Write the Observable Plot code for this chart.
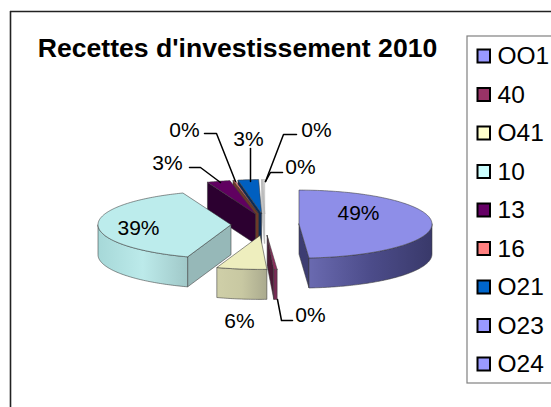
<!DOCTYPE html>
<html><head><meta charset="utf-8">
<script src="https://cdn.jsdelivr.net/npm/d3@7"></script>
<script src="https://cdn.jsdelivr.net/npm/@observablehq/plot@0.6"></script>
<style>html,body{margin:0;padding:0;background:#fff;overflow:hidden}svg{display:block}</style>
</head><body><div id="chart"></div>
<script>
const title = "Recettes d'investissement 2010";
const categories = ["OO1","40","O41","10","13","16","O21","O23","O24"];
const values = [48.9,0.4,6.1,38.9,2.8,0.25,2.5,0.1,0.25];
const legendColors = ["#9999ff","#993366","#ffffcc","#ccffff","#660066","#ff8080","#0066cc","#9999ff","#9999ff"];
const topColors = ["#8e8ee8","#8e2f5e","#eeeebe","#bcecec","#600060","#ee7676","#005fc0","#c8c8c8","#d4d4d4"];
const faceColors = ["#3d3d72","#4a1a36","#aaa888","#96b8b8","#2c0030","#6e3a28","#0a2a58","#c4c4c4","#cfcfcf"];
const rimStops = [
  ["#6a6ab0","#4c4c8a","#39396a"],["#7a2a55","#7a2a55","#7a2a55"],["#cfcfa8","#c8c8a2","#aaaa8e"],
  ["#a6d8d8","#bceaea","#a0c8c8"],["#300030","#300030","#300030"],["#703030","#703030","#703030"],
  ["#003060","#003060","#003060"],["#bbb","#bbb","#bbb"],["#bbb","#bbb","#bbb"]];
// callouts: value label text, text x, text y
const calloutText = [
  ["49%",358,213],["39%",138,228],["6%",239,321],["0%",310,315],["0%",184,130],
  ["3%",248,139],["3%",167,163],["0%",316,130],["0%",300,167]];
const leaders = [
  [[292,320],[281,320],[277,299]],
  [[204,133],[216,133],[235,181]],
  [[250,148],[250,181]],
  [[189,167],[200,167],[220,182]],
  [[296,134],[283,134],[265,181]],
  [[282,172],[270,172],[265,181]]];

const W = 551, H = 407;
const cx = 264.5, cy = 224, rx = 133, ry = 34, depth = 30, ex = 34, ey = 11;
const rad = d => d * Math.PI / 180;
const total = d3.sum(values);
let acc = 0;
const slices = values.map((v, i) => {
  const a0 = acc / total * 360; acc += v; const a1 = acc / total * 360;
  const mid = rad((a0 + a1) / 2);
  return {i, a0, a1, ox: cx + ex * Math.sin(mid), oy: cy - ey * Math.cos(mid)};
});
const at = (s, a, dz = 0) => ({x: s.ox + rx * Math.sin(rad(a)), y: s.oy - ry * Math.cos(rad(a)) + dz});
const arc = (s, a0, a1, dz = 0) => {
  const n = Math.max(1, Math.ceil(Math.abs(a1 - a0)));
  return d3.range(n + 1).map(k => at(s, a0 + (a1 - a0) * k / n, dz));
};
const apex = (s, dz = 0) => ({x: s.ox, y: s.oy + dz});
const closed = p => [...p, p[0]];
const edgeFace = (s, a) => closed([apex(s), at(s, a), at(s, a, depth), apex(s, depth)]);

const polyMark = (pts, fill, i) =>
  Plot.line(pts, {x: "x", y: "y", fill, stroke: i >= 7 ? "#b8b8b8" : "#3c3c3c", strokeWidth: 0.7, strokeOpacity: 0.8});

function sliceMarks(s) {
  const out = [];
  const rA = Math.max(s.a0, 90), rB = Math.min(s.a1, 270);
  if (s.a0 > 180) out.push(polyMark(edgeFace(s, s.a0), faceColors[s.i], s.i));
  if (s.a1 < 180) out.push(polyMark(edgeFace(s, s.a1), faceColors[s.i], s.i));
  if (rB > rA) out.push(polyMark(closed([...arc(s, rA, rB), ...arc(s, rB, rA, depth)]), `url(#rim${s.i})`, s.i));
  out.push(polyMark(closed([apex(s), ...arc(s, s.a0, s.a1)]), topColors[s.i], s.i));
  return out;
}
// back slices are painted right to left, then the front ones
const paintOrder = [8, 7, 6, 5, 4, 3, 2, 1, 0];

const defs = () => {
  const d = d3.create("svg:defs");
  slices.forEach(s => {
    const g = d.append("linearGradient").attr("id", `rim${s.i}`);
    rimStops[s.i].forEach((c, k) => g.append("stop").attr("offset", k / 2).attr("stop-color", c));
  });
  return d.node();
};

const legendRows = categories.map((name, i) => ({name, color: legendColors[i], row: i}));
const rowY = i => 56 + i * 38.5;

const chart = Plot.plot({
  width: W, height: H, margin: 0,
  x: {domain: [0, W], range: [0, W], axis: null},
  y: {domain: [0, H], range: [0, H], axis: null},
  style: {background: "#fff", fontFamily: "'Liberation Sans', Arial, sans-serif"},
  marks: [
    defs,
    Plot.ruleX([10], {y1: 11, y2: H, stroke: "#222", strokeWidth: 1.6}),
    Plot.ruleY([11], {x1: 10, x2: W, stroke: "#222", strokeWidth: 1.4}),
    Plot.text([title], {x: 237, y: 47.5, text: d => d, fontWeight: "bold", fontSize: 26.6, fill: "#000"}),
    ...paintOrder.flatMap(i => sliceMarks(slices[i])),
    ...leaders.map(l => Plot.line(l, {x: d => d[0], y: d => d[1], stroke: "#000", strokeWidth: 1.5})),
    Plot.text(calloutText, {x: d => d[1], y: d => d[2], text: d => d[0], fontSize: 21, fill: "#000"}),
    Plot.rect([0], {x1: 467, x2: 556, y1: 36, y2: 383, fill: "#fff", stroke: "#808080", strokeWidth: 1.2}),
    Plot.rect(legendRows, {
      x1: 477.5, x2: 490, y1: d => rowY(d.row) - 6.5, y2: d => rowY(d.row) + 6.5,
      fill: {value: d => d.color, scale: null}, stroke: "#000", strokeWidth: 2
    }),
    Plot.text(legendRows, {x: 497, y: d => rowY(d.row), text: "name", textAnchor: "start", fontSize: 24.5, fill: "#000"})
  ]
});
document.getElementById("chart").append(chart);
</script></body></html>
